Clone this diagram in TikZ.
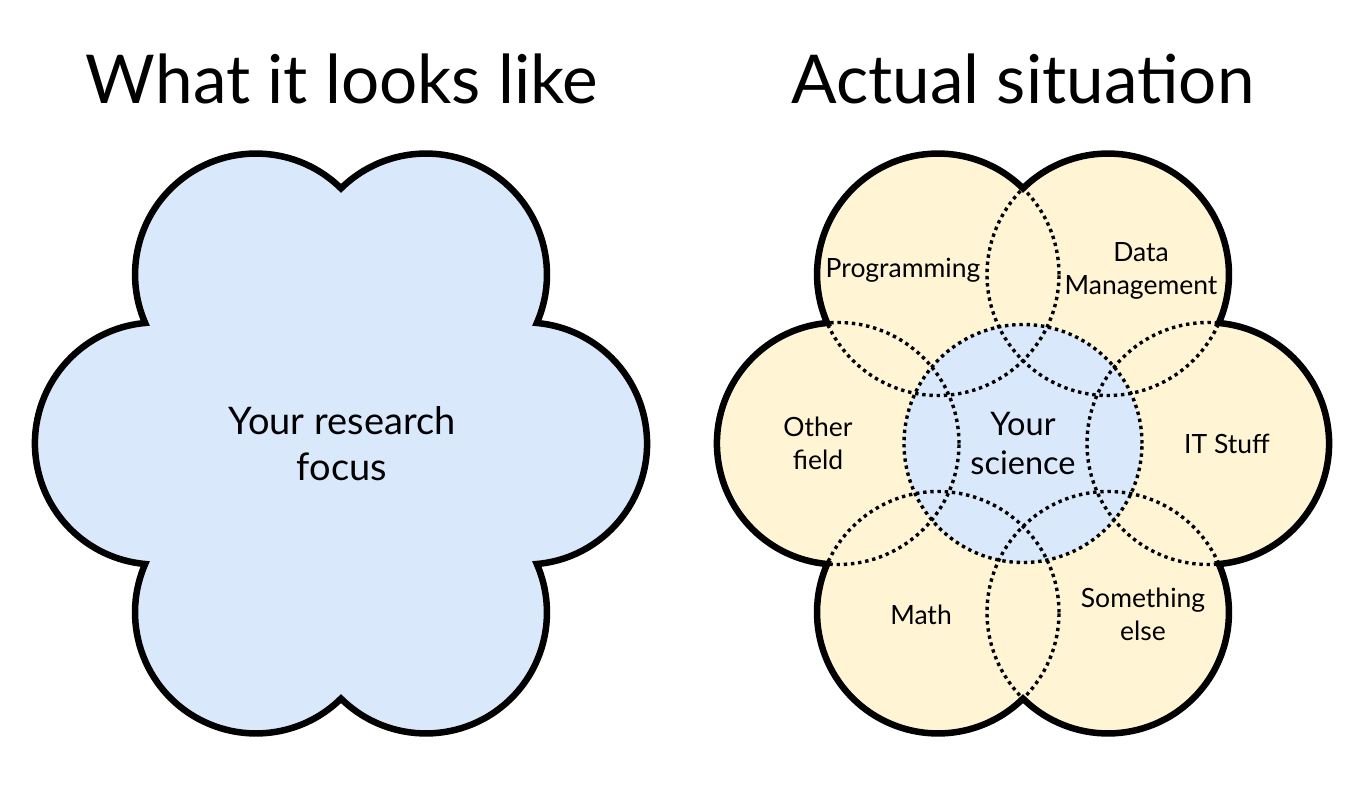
\documentclass[tikz,border=0pt]{standalone}
\usepackage{fontspec}
\setmainfont{Lato}
\usepackage{tikz}
\definecolor{myblue}{RGB}{218,232,252}
\definecolor{myyellow}{RGB}{255,244,212}

\begin{document}
\begin{tikzpicture}[x=1pt, y=1pt]
    \useasboundingbox (0, 0) rectangle (1365, 785);
    \node[anchor=base, align=center, font=\fontsize{67.4}{80}\selectfont] (lefttitle) at (342, 681.4) {What it looks like};
    \node[anchor=base, align=center, font=\fontsize{67.4}{80}\selectfont] (righttitle) at (1023, 681.4) {Actual situation};
    \begin{scope}[xshift=341pt, yshift=341.5pt]
        \draw[fill=myblue, line width=6.5pt, line join=miter] (0, 255.1)
            arc[start angle=45.4, end angle=203.6, radius=121]
            arc[start angle=95.1, end angle=264.9, radius=121]
            arc[start angle=156.4, end angle=314.6, radius=121]
            arc[start angle=225.4, end angle=383.6, radius=121]
            arc[start angle=-84.9, end angle=84.9, radius=121]
            arc[start angle=-23.6, end angle=134.6, radius=121]
            -- cycle;
        \node[anchor=center, align=center, font=\fontsize{38}{46}\selectfont] (focus) at (1, 0) {Your research\\focus};
    \end{scope}
    \begin{scope}[xshift=1023pt, yshift=341.5pt]
        % yellow circles, then the blue one
        \fill[myyellow] (-85, 169) circle[radius=121];
        \fill[myyellow] (85, 169) circle[radius=121];
        \fill[myyellow] (-185, 0) circle[radius=121];
        \fill[myyellow] (185, 0) circle[radius=121];
        \fill[myyellow] (-85, -169) circle[radius=121];
        \fill[myyellow] (85, -169) circle[radius=121];
        \fill[myblue] (0, 0) circle[radius=119];
        % dotted overlaps
        \draw[line width=3.4pt, dash pattern=on 3.4pt off 3.8pt] (-85, 169) circle[radius=121];
        \draw[line width=3.4pt, dash pattern=on 3.4pt off 3.8pt] (85, 169) circle[radius=121];
        \draw[line width=3.4pt, dash pattern=on 3.4pt off 3.8pt] (-185, 0) circle[radius=121];
        \draw[line width=3.4pt, dash pattern=on 3.4pt off 3.8pt] (185, 0) circle[radius=121];
        \draw[line width=3.4pt, dash pattern=on 3.4pt off 3.8pt] (-85, -169) circle[radius=121];
        \draw[line width=3.4pt, dash pattern=on 3.4pt off 3.8pt] (85, -169) circle[radius=121];
        \draw[line width=3.4pt, dash pattern=on 3.4pt off 3.8pt] (0, 0) circle[radius=119];
        % outline
        \draw[line width=6.5pt, line join=miter] (0, 255.1)
            arc[start angle=45.4, end angle=203.6, radius=121]
            arc[start angle=95.1, end angle=264.9, radius=121]
            arc[start angle=156.4, end angle=314.6, radius=121]
            arc[start angle=225.4, end angle=383.6, radius=121]
            arc[start angle=-84.9, end angle=84.9, radius=121]
            arc[start angle=-23.6, end angle=134.6, radius=121]
            -- cycle;
        \node[anchor=center, align=center, font=\fontsize{26.5}{33}\selectfont] (prog) at (-120, 173.5) {Programming};
        \node[anchor=center, align=center, font=\fontsize{26.5}{33}\selectfont] (data) at (118, 172.5) {Data\\Management};
        \node[anchor=center, align=center, font=\fontsize{26.5}{33}\selectfont] (other) at (-205, 0) {Other\\field};
        \node[anchor=center, align=center, font=\fontsize{26.5}{33}\selectfont] (it) at (204, 0) {IT Stuff};
        \node[anchor=center, align=center, font=\fontsize{26.5}{33}\selectfont] (math) at (-102, -171.5) {Math};
        \node[anchor=center, align=center, font=\fontsize{26.5}{33}\selectfont] (else) at (120, -170.5) {Something\\else};
        \node[anchor=center, align=center, font=\fontsize{32.5}{39}\selectfont] (science) at (0, 0) {Your\\science};
    \end{scope}
\end{tikzpicture}
\end{document}
